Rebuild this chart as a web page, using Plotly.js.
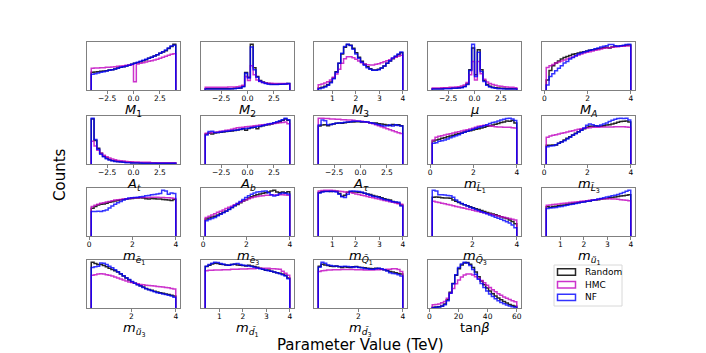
<!DOCTYPE html>
<html><head><meta charset="utf-8">
<script src="https://cdn.plot.ly/plotly-3.0.1.min.js"></script>
<style>html,body{margin:0;padding:0;background:#fff}#c{width:706px;height:353px}</style>
</head><body><div id="c"></div>
<script>
// ---------- data (30 bins each) ----------
const seriesNames = ['Random', 'HMC', 'NF'];
const paramLabels = ['<i>M</i><sub>1</sub>','<i>M</i><sub>2</sub>','<i>M</i><sub>3</sub>','<i>μ</i>','<i>M</i><sub><i>A</i></sub>',
 '<i>A</i><sub><i>t</i></sub>','<i>A</i><sub><i>b</i></sub>','<i>A</i><sub><i>τ</i></sub>','<i>m</i><sub><i>L̃</i><sub>1</sub></sub>','<i>m</i><sub><i>L̃</i><sub>3</sub></sub>',
 '<i>m</i><sub><i>ẽ</i><sub>1</sub></sub>','<i>m</i><sub><i>ẽ</i><sub>3</sub></sub>','<i>m</i><sub><i>Q̃</i><sub>1</sub></sub>','<i>m</i><sub><i>Q̃</i><sub>3</sub></sub>','<i>m</i><sub><i>ũ</i><sub>1</sub></sub>',
 '<i>m</i><sub><i>ũ</i><sub>3</sub></sub>','<i>m</i><sub><i>d̃</i><sub>1</sub></sub>','<i>m</i><sub><i>d̃</i><sub>3</sub></sub>','tan<i>β</i>'];
const binLo = [-4,-4,0.4,-4,0.08,-4,-4,-4,0.1,0.1,0.1,0.1,0.4,0.2,0.4,0.2,0.4,0.2,2];
const binHi = [4,4,4,4,4,4,4,4,4,4,4,4,4,4,4,4,4,4,60];

const tickPM_vals = [-2.5,0,2.5], tickPM_text = ['−2.5','0.0','2.5'];
const tick1234_vals = [1,2,3,4], tick1234_text = ['1','2','3','4'];
const tick024_vals = [0,2,4], tick024_text = ['0','2','4'];
const tick24_vals = [2,4], tick24_text = ['2','4'];
const tickTan_vals = [0,20,40,60], tickTan_text = ['0','20','40','60'];
const tickKind = ['pm','pm','1234','pm','024','pm','pm','pm','024','024','024','024','1234','24','1234','24','1234','24','tan'];

const rnd_M1 = [53,54,55,56,57,58,60,61,63,66,68,70,72,74,77,80,82,85,88,91,95,98,102,106,110,114,118,124,130,137];
const hmc_M1 = [65,66,66,67,67,68,68,69,70,71,72,73,74,75,76,25,78,80,82,84,86,88,90,92,95,98,101,104,107,109];
const nf_M1  = [47,49,51,53,55,57,59,61,63,65,68,70,72,74,77,80,83,86,89,92,95,98,102,106,110,115,120,126,132,134];

const rnd_M2 = [4,4,4,4,4,4,4,4,4,4,5,5,6,11,52,38,136,66,40,28,24,21,19,18,17,17,17,18,18,19];
const hmc_M2 = [8,8,8,8,8,8,8,8,9,9,9,10,11,14,40,28,72,45,30,25,22,21,20,20,19,19,19,19,19,18];
const nf_M2  = [3,3,3,3,3,3,3,3,3,4,4,5,6,10,50,36,128,60,38,26,22,19,17,16,16,16,17,17,18,19];

const rnd_M3 = [6,8,11,16,24,36,55,80,108,128,136,134,125,112,98,86,77,70,64,60,60,62,66,72,80,87,94,100,106,112];
const hmc_M3 = [16,18,21,25,30,38,48,62,80,94,100,100,97,92,87,82,78,76,75,75,77,79,82,85,88,91,95,98,101,104];
const nf_M3  = [4,6,9,14,22,34,53,80,110,130,137,133,122,108,95,83,74,67,62,59,59,61,66,72,80,88,96,102,108,114];

const rnd_mu = [4,4,4,4,5,5,5,6,6,7,8,11,18,60,125,45,120,60,28,16,11,8,7,6,5,5,4,4,4,4];
const hmc_mu = [6,6,6,7,7,7,8,8,9,10,12,15,22,45,85,30,85,48,32,24,19,16,14,12,11,10,9,8,8,7];
const nf_mu  = [3,3,3,3,4,4,4,5,5,6,7,10,16,58,136,40,112,55,25,14,9,7,5,4,4,3,3,3,3,3];

const rnd_MA = [30,58,72,80,86,92,97,100,103,106,108,110,112,114,116,118,120,121,123,124,126,127,125,128,130,130,131,132,133,134];
const hmc_MA = [67,72,76,80,83,86,89,92,95,98,101,104,107,110,112,114,116,118,120,122,124,125,126,127,128,129,130,130,131,131];
const nf_MA  = [15,40,48,57,65,72,80,85,92,97,102,107,110,113,115,118,120,123,125,128,130,132,135,135,132,130,132,133,135,136];

const rnd_At = [138,72,48,33,24,18,14,11,9,8,7,6,5,5,4,4,4,3,3,3,3,3,3,2,2,2,2,2,2,2];
const hmc_At = [70,55,42,33,27,22,18,15,13,11,10,9,8,7,7,6,6,5,5,5,5,4,4,4,4,4,4,4,4,4];
const nf_At  = [140,75,45,30,22,16,12,10,8,7,6,5,4,4,3,3,3,3,2,2,2,2,2,2,2,2,2,2,2,2];

const rnd_Ab = [88,90,88,91,92,93,94,95,96,97,98,100,101,103,99,104,106,108,103,110,112,114,115,117,120,122,124,128,132,128];
const hmc_Ab = [90,91,92,93,94,96,97,99,100,102,104,106,107,108,109,110,111,112,113,114,115,116,117,118,119,120,121,122,123,118];
const nf_Ab  = [85,95,96,92,92,94,95,96,97,98,99,100,102,103,104,105,107,108,110,111,113,115,117,119,121,124,127,130,134,130];

const rnd_Atau = [112,115,116,113,117,118,120,121,120,122,123,124,124,125,125,124,124,123,122,121,121,119,118,117,115,114,117,115,116,113];
const hmc_Atau = [135,135,134,134,133,133,132,132,131,131,130,130,129,128,127,126,125,123,121,119,116,113,110,107,104,101,98,95,92,90];
const nf_Atau  = [115,130,128,116,117,119,120,121,122,123,124,125,126,126,126,125,125,124,122,120,118,116,114,112,113,115,112,116,114,112];

const rnd_mL1 = [69,72,74,77,79,82,84,86,89,91,93,96,98,100,102,104,106,108,110,113,115,117,119,121,124,126,129,128,130,123];
const hmc_mL1 = [72,80,83,85,87,89,91,93,95,97,99,101,103,105,107,110,113,115,116,116,115,113,112,111,111,110,110,110,109,108];
const nf_mL1  = [62,64,68,70,72,75,79,82,85,88,92,95,98,101,104,107,110,112,115,118,121,124,126,129,132,134,136,137,135,130];

const rnd_mL3 = [56,56,57,57,62,67,72,77,82,87,92,97,102,106,110,113,113,114,113,113,115,117,118,120,122,125,127,128,129,126];
const hmc_mL3 = [80,84,86,88,90,92,94,96,98,100,102,104,106,107,108,109,110,110,110,111,111,111,111,111,112,112,112,112,111,110];
const nf_mL3  = [52,54,55,58,62,66,70,75,80,86,91,96,101,108,116,120,118,115,114,117,120,123,127,131,134,136,137,136,137,132];

const rnd_me1 = [85,90,95,97,98,100,103,105,107,109,111,112,113,114,115,116,116,117,116,114,113,115,114,113,113,112,111,110,109,112];
const hmc_me1 = [90,94,97,100,102,104,106,108,110,111,112,113,114,115,116,117,117,118,118,118,118,119,119,119,118,118,117,117,116,115];
const nf_me1  = [75,75,76,75,77,80,86,92,97,102,106,110,113,116,117,118,119,120,121,123,124,126,127,129,130,140,138,128,132,130];

const rnd_me3 = [50,53,56,58,62,66,70,74,79,84,89,93,98,103,107,112,116,119,122,124,126,128,130,133,135,130,128,130,128,131];
const hmc_me3 = [55,58,62,66,70,73,77,81,85,88,92,96,100,104,107,110,113,115,117,118,119,120,120,121,121,121,122,122,121,120];
const nf_me3  = [45,49,52,55,60,64,69,73,78,84,90,96,102,108,114,119,123,127,130,131,132,133,128,122,118,120,125,127,126,124];

const rnd_mQ1 = [133,136,137,137,136,137,137,130,122,125,134,136,135,135,134,133,131,129,127,124,122,120,117,114,112,110,106,103,100,95];
const hmc_mQ1 = [138,139,140,140,140,139,138,137,136,135,134,133,131,129,127,125,123,121,119,117,115,113,111,109,107,105,103,101,99,97];
const nf_mQ1  = [132,135,136,136,137,136,135,128,120,118,128,137,138,137,136,134,131,128,125,122,120,118,115,112,110,108,105,104,103,92];

const rnd_mQ3 = [120,121,120,119,118,118,117,112,108,104,100,97,94,91,88,85,82,79,76,73,71,68,66,63,60,57,54,50,45,38];
const hmc_mQ3 = [108,106,104,102,100,98,96,94,92,90,88,86,84,82,80,78,76,74,72,70,68,66,64,62,60,58,56,54,52,50];
const nf_mQ3  = [142,140,128,128,127,126,125,120,112,106,101,97,93,89,86,82,79,75,72,69,65,62,58,55,52,48,44,40,34,26];

const rnd_mu1 = [90,89,91,92,93,95,96,98,99,101,102,103,105,106,107,108,110,111,112,114,115,116,118,119,120,122,123,124,126,127];
const hmc_mu1 = [95,96,97,98,99,100,101,102,103,104,105,106,107,108,109,110,111,112,113,114,115,115,115,114,114,113,112,111,110,109];
const nf_mu1  = [85,86,87,88,90,91,93,95,97,98,100,102,104,105,107,108,110,112,114,116,118,120,122,124,126,128,131,134,138,141];

const rnd_mu3 = [140,136,133,133,130,126,122,118,114,110,104,98,92,86,80,76,72,68,64,60,57,54,51,49,47,45,43,41,39,37];
const hmc_mu3 = [100,102,104,105,104,102,100,98,95,92,89,86,83,80,78,76,74,72,71,70,69,68,67,66,65,64,63,62,60,58];
const nf_mu3  = [124,126,128,138,137,133,128,123,117,111,105,99,93,87,81,76,71,67,63,59,56,53,50,47,45,43,41,39,37,33];

const rnd_md1 = [124,128,132,134,133,131,130,129,128,130,131,129,128,127,126,128,126,124,122,119,116,113,114,110,108,106,104,102,98,90];
const hmc_md1 = [112,113,113,114,114,114,115,115,115,116,116,116,117,117,117,118,118,118,119,119,119,119,119,118,118,117,116,110,104,98];
const nf_md1  = [125,130,134,137,136,133,131,129,128,130,132,133,130,128,127,126,124,122,120,118,116,114,112,110,108,106,103,100,96,88];

const rnd_md3 = [128,134,132,130,128,127,129,126,124,126,125,124,126,127,125,124,123,122,121,120,122,121,119,117,115,112,110,108,106,104];
const hmc_md3 = [112,114,115,116,116,117,117,117,118,118,118,118,118,117,117,117,116,116,116,116,117,117,118,118,119,119,120,120,118,112];
const nf_md3  = [125,140,137,132,130,129,128,127,127,128,127,126,125,126,124,123,121,120,119,119,120,122,120,117,113,108,106,105,102,98];

const rnd_tanb = [2,3,4,6,12,25,48,75,100,120,132,138,139,134,124,110,96,83,71,61,52,44,37,31,25,20,15,11,8,5];
const hmc_tanb = [10,11,12,16,20,30,45,60,74,86,95,101,104,104,101,96,90,84,77,70,63,56,50,44,39,34,30,26,22,19];
const nf_tanb  = [1,2,3,5,10,22,45,74,102,124,135,140,138,130,118,103,88,75,63,52,43,35,28,22,17,13,9,6,4,2];

const rndAll = [rnd_M1,rnd_M2,rnd_M3,rnd_mu,rnd_MA,rnd_At,rnd_Ab,rnd_Atau,rnd_mL1,rnd_mL3,rnd_me1,rnd_me3,rnd_mQ1,rnd_mQ3,rnd_mu1,rnd_mu3,rnd_md1,rnd_md3,rnd_tanb];
const hmcAll = [hmc_M1,hmc_M2,hmc_M3,hmc_mu,hmc_MA,hmc_At,hmc_Ab,hmc_Atau,hmc_mL1,hmc_mL3,hmc_me1,hmc_me3,hmc_mQ1,hmc_mQ3,hmc_mu1,hmc_mu3,hmc_md1,hmc_md3,hmc_tanb];
const nfAll  = [nf_M1,nf_M2,nf_M3,nf_mu,nf_MA,nf_At,nf_Ab,nf_Atau,nf_mL1,nf_mL3,nf_me1,nf_me3,nf_mQ1,nf_mQ3,nf_mu1,nf_mu3,nf_md1,nf_md3,nf_tanb];

// ---------- styling / layout ----------
const W = 706, H = 353;
const colLeft = [87, 201, 314, 428, 542], colW = 93;
const rowTop = [42, 116, 188, 260], rowH = 48;
const colors = ['rgba(0,0,0,0.85)', 'rgba(191,0,191,0.8)', 'rgba(0,0,255,0.8)'];
const frame = '#808080';
const ticksByKind = {
  pm: [tickPM_vals, tickPM_text], '1234': [tick1234_vals, tick1234_text],
  '024': [tick024_vals, tick024_text], '24': [tick24_vals, tick24_text], tan: [tickTan_vals, tickTan_text]
};

function stepXY(lo, hi, counts) {
  const n = counts.length, w = (hi - lo) / n;
  const x = [lo], y = [0];
  for (let i = 0; i < n; i++) { x.push(lo + i * w); y.push(counts[i]); }
  x.push(hi); y.push(0);
  return {x, y};
}

const traces = [];
const annotations = [
  {text: 'Counts', xref: 'paper', yref: 'paper', x: 60 / W, y: 1 - 175 / H, showarrow: false,
   textangle: -90, font: {size: 15}, xanchor: 'center', yanchor: 'middle'},
  {text: 'Parameter Value (TeV)', xref: 'paper', yref: 'paper', x: 360 / W, y: 1 - 345 / H, showarrow: false,
   font: {size: 15}, xanchor: 'center', yanchor: 'middle'}
];
const shapes = [];
const layout = {
  width: W, height: H, margin: {l: 0, r: 0, t: 0, b: 0},
  paper_bgcolor: '#fff', plot_bgcolor: '#fff',
  font: {family: 'DejaVu Sans', size: 7.5, color: '#000'},
  showlegend: false, annotations, shapes
};

for (let p = 0; p < paramLabels.length; p++) {
  const r = Math.floor(p / 5), c = p % 5;
  const id = p === 0 ? '' : String(p + 1);
  const lo = binLo[p], hi = binHi[p], span = hi - lo;
  const sets = [rndAll[p], hmcAll[p], nfAll[p]];
  let ymax = 0;
  sets.forEach((s, k) => {
    ymax = Math.max(ymax, ...s);
    const xy = stepXY(lo, hi, s);
    traces.push({type: 'scatter', mode: 'lines', x: xy.x, y: xy.y, xaxis: 'x' + id, yaxis: 'y' + id,
      line: {shape: 'hv', color: colors[k], width: 1.5}, showlegend: false, hoverinfo: 'skip', name: seriesNames[k]});
  });
  const tk = ticksByKind[tickKind[p]];
  layout['xaxis' + id] = {
    domain: [colLeft[c] / W, (colLeft[c] + colW) / W], anchor: 'y' + id,
    range: [lo - 0.05 * span, hi + 0.05 * span],
    showline: true, mirror: true, linecolor: frame, linewidth: 1,
    ticks: 'outside', ticklen: 3, tickwidth: 1, tickcolor: frame,
    tickvals: tk[0], ticktext: tk[1], tickfont: {size: 7.5}, ticklabelstandoff: -2,
    showgrid: false, zeroline: false
  };
  layout['yaxis' + id] = {
    domain: [1 - (rowTop[r] + rowH) / H, 1 - rowTop[r] / H], anchor: 'x' + id,
    range: [0, ymax * 1.05], showline: true, mirror: true, linecolor: frame, linewidth: 1,
    showticklabels: false, ticks: '', showgrid: false, zeroline: false
  };
  // x-axis label of each panel, placed under its tick labels
  annotations.push({text: paramLabels[p], xref: 'x' + id + ' domain', yref: 'y' + id + ' domain',
    x: 0.5, y: -11 / rowH, xanchor: 'center', yanchor: 'top', showarrow: false, borderpad: 0, font: {size: 13}});
}

// legend (outlined patches, matplotlib style) in the empty 20th cell
const legLeft = 554, legTop = 265, legW = 68, legH = 41, legRow = 12.7;
shapes.push({type: 'rect', xref: 'paper', yref: 'paper', x0: legLeft / W, x1: (legLeft + legW) / W,
  y0: 1 - (legTop + legH) / H, y1: 1 - legTop / H, line: {color: '#d8d8d8', width: 1}, fillcolor: '#fff', layer: 'above'});
seriesNames.forEach((nm, k) => {
  const cy = legTop + 7 + k * legRow;
  shapes.push({type: 'rect', xref: 'paper', yref: 'paper', x0: (legLeft + 3.5) / W, x1: (legLeft + 21.5) / W,
    y0: 1 - (cy + 3.2) / H, y1: 1 - (cy - 3.2) / H, line: {color: colors[k], width: 1.5}, fillcolor: 'rgba(0,0,0,0)', layer: 'above'});
  annotations.push({text: nm, xref: 'paper', yref: 'paper', x: (legLeft + 28.5) / W, y: 1 - cy / H,
    xanchor: 'left', yanchor: 'middle', showarrow: false, font: {size: 9}});
});

Plotly.newPlot('c', traces, layout, {staticPlot: true, displayModeBar: false});
</script>
</body></html>
